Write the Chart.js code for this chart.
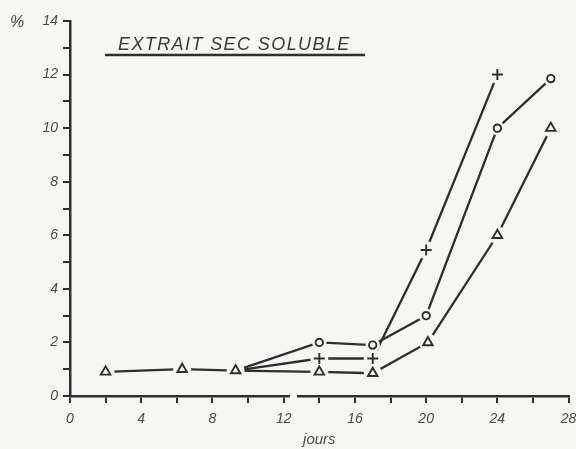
<!DOCTYPE html>
<html>
<head>
<meta charset="utf-8">
<script src="https://cdn.jsdelivr.net/npm/chart.js@4.4.1/dist/chart.umd.min.js"></script>
<style>
  html, body { margin: 0; padding: 0; background: #f6f6f4; }
  #wrap { width: 576px; height: 449px; position: relative; }
</style>
</head>
<body>
<div id="wrap"><canvas id="chart" width="576" height="449"></canvas></div>
<script>
// days (x) and % values (y)
const triDays = [2, 6.3, 9.3, 14, 17, 20.1, 24, 27];
const triValues = [0.9, 1.0, 0.95, 0.9, 0.85, 2.0, 6.0, 10.0];
const circleDays = [9.3, 14, 17, 20, 24, 27];
const circleValues = [0.95, 2.0, 1.9, 3.0, 10.0, 11.85];
const plusDays = [9.3, 14, 17, 20, 24];
const plusValues = [0.95, 1.4, 1.4, 5.45, 12.0];

const xTicks = [0, 4, 8, 12, 16, 20, 24, 28];
const yTicks = [0, 2, 4, 6, 8, 10, 12, 14];

const BG = '#f6f6f4';
const INK = '#2e2e2e';
const FONT = "'Liberation Sans', Arial, sans-serif";

const pairs = (xs, ys) => xs.map((x, i) => ({ x: x, y: ys[i] }));

function series(xs, ys, style, radius, hideFirst) {
  return {
    data: pairs(xs, ys),
    borderColor: INK,
    borderWidth: 2.3,
    pointStyle: style,
    pointRadius: xs.map((_, i) => (hideFirst && i === 0 ? 0 : radius)),
    pointBorderColor: INK,
    pointBackgroundColor: BG,
    pointBorderWidth: 1.9,
    tension: 0
  };
}

// background-coloured halo around markers so lines stop short of them
const halos = {
  id: 'halos',
  afterDatasetsDraw(chart) {
    const ctx = chart.ctx;
    const metas = chart.getSortedVisibleDatasetMetas();
    ctx.save();
    ctx.fillStyle = BG;
    metas.forEach(meta => {
      meta.data.forEach(pt => {
        if (pt.options.radius > 0) {
          ctx.beginPath();
          ctx.arc(pt.x, pt.y, pt.options.radius + 3.5, 0, Math.PI * 2);
          ctx.fill();
        }
      });
    });
    ctx.restore();
    metas.forEach(meta => meta.data.forEach(pt => pt.draw(ctx, chart.chartArea)));
  }
};

// title, % label and the small break in the x axis
const decor = {
  id: 'decor',
  afterDraw(chart) {
    const ctx = chart.ctx;
    const xs = chart.scales.x;
    ctx.save();
    ctx.fillStyle = '#3a3a3a';
    ctx.font = 'italic 18px ' + FONT;
    ctx.textBaseline = 'alphabetic';
    ctx.letterSpacing = '1.4px';
    ctx.fillText('EXTRAIT SEC SOLUBLE', 118, 50);
    ctx.letterSpacing = '0px';
    ctx.strokeStyle = INK;
    ctx.lineWidth = 2.5;
    ctx.beginPath();
    ctx.moveTo(105, 55);
    ctx.lineTo(365, 55);
    ctx.stroke();

    ctx.font = 'italic 16px ' + FONT;
    ctx.fillStyle = '#444';
    ctx.fillText('%', 10, 27);

    // break in the x axis between 12 and 14
    const b = chart.chartArea.bottom;
    const x0 = xs.getPixelForValue(12.35);
    ctx.fillStyle = BG;
    ctx.fillRect(x0, b - 3, xs.getPixelForValue(12.75) - x0, 6);
    ctx.restore();
  }
};

new Chart(document.getElementById('chart'), {
  type: 'line',
  data: {
    datasets: [
      series(triDays, triValues, 'triangle', 5.5, false),
      series(circleDays, circleValues, 'circle', 3.7, true),
      series(plusDays, plusValues, 'cross', 5.5, true)
    ]
  },
  options: {
    responsive: false,
    animation: false,
    layout: { padding: { top: 21, right: 6, left: 0, bottom: 0 } },
    plugins: {
      legend: { display: false },
      tooltip: { enabled: false }
    },
    scales: {
      x: {
        type: 'linear',
        min: 0,
        max: 28,
        afterFit: s => {
          s.height = 53;
          s.paddingLeft = 0;
          s.paddingRight = 0;
        },
        afterBuildTicks: s => {
          const t = [];
          for (let v = 0; v <= 28; v += 2) t.push({ value: v });
          s.ticks = t;
        },
        ticks: {
          autoSkip: false,
          maxRotation: 0,
          padding: 8,
          color: '#4a4a4a',
          font: { family: FONT, size: 14, style: 'italic' },
          callback: v => (xTicks.includes(v) ? String(v) : '')
        },
        grid: { drawOnChartArea: false, drawTicks: true, tickLength: 7, color: INK, lineWidth: 2 },
        border: { color: INK, width: 2.5 },
        title: {
          display: true,
          text: 'jours',
          color: '#4a4a4a',
          font: { family: FONT, size: 15, style: 'italic' },
          padding: { top: 0, bottom: 0 }
        }
      },
      y: {
        min: 0,
        max: 14,
        afterFit: s => {
          s.width = 70;
          s.paddingTop = 0;
          s.paddingBottom = 0;
        },
        afterBuildTicks: s => {
          const t = [];
          for (let v = 0; v <= 14; v += 1) t.push({ value: v });
          s.ticks = t;
        },
        ticks: {
          autoSkip: false,
          padding: 5,
          color: '#4a4a4a',
          font: { family: FONT, size: 14, style: 'italic' },
          callback: v => (yTicks.includes(v) ? String(v) : '')
        },
        grid: { drawOnChartArea: false, drawTicks: true, tickLength: 7, color: INK, lineWidth: 2 },
        border: { color: INK, width: 2.5 }
      }
    }
  },
  plugins: [halos, decor]
});
</script>
</body>
</html>
